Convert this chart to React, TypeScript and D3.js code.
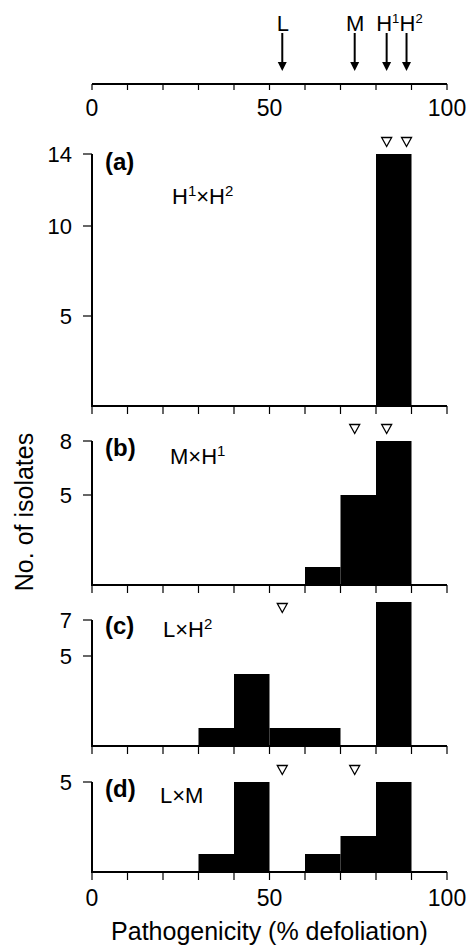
import React from "react";
import * as d3 from "d3";

// ---------- data ----------
const BIN_STARTS = [0, 10, 20, 30, 40, 50, 60, 70, 80, 90];
const BIN_WIDTH = 10;
const PANEL_TAGS = ["(a)", "(b)", "(c)", "(d)"];
const CROSSES = ["H^1×H^2", "M×H^1", "L×H^2", "L×M"];
const COUNTS_A = [0, 0, 0, 0, 0, 0, 0, 0, 14, 0];
const COUNTS_B = [0, 0, 0, 0, 0, 0, 1, 5, 8, 0];
const COUNTS_C = [0, 0, 0, 1, 4, 1, 1, 0, 8, 0];
const COUNTS_D = [0, 0, 0, 1, 5, 0, 1, 2, 5, 0];
const Y_TICKS_A = [5, 10, 14];
const Y_TICKS_B = [5, 8];
const Y_TICKS_C = [5, 7];
const Y_TICKS_D = [5];
const PARENT_NAMES = ["L", "M", "H1", "H2"];
const PARENT_LABELS = ["L", "M", "H^1", "H^2"];
const PARENT_VALUES = [53.6, 74.0, 83.0, 88.6];
const PANEL_PARENTS = [["H1", "H2"], ["M", "H1"], ["L"], ["L", "M"]];
const X_TICKS = [0, 10, 20, 30, 40, 50, 60, 70, 80, 90, 100];
const X_LABELS = [0, 50, 100];
const X_TITLE = "Pathogenicity (% defoliation)";
const Y_TITLE = "No. of isolates";

// ---------- layout ----------
const W = 473;
const H = 946;
const FONT = "'Liberation Sans', Arial, Helvetica, sans-serif";
const UNIT = 18;
const panels = [
  { counts: COUNTS_A, ticks: Y_TICKS_A, base: 406, tagY: 170, crossX: 172, crossY: 204 },
  { counts: COUNTS_B, ticks: Y_TICKS_B, base: 585, tagY: 456, crossX: 170, crossY: 464 },
  { counts: COUNTS_C, ticks: Y_TICKS_C, base: 746, tagY: 634, crossX: 163, crossY: 637 },
  { counts: COUNTS_D, ticks: Y_TICKS_D, base: 872, tagY: 797, crossX: 160, crossY: 803 },
];
// horizontal placement of the parent labels relative to their arrows
const LABEL_PLACE: Record<string, { anchor: string; dx: number }> = {
  L: { anchor: "middle", dx: 0.5 },
  M: { anchor: "middle", dx: 0.5 },
  H1: { anchor: "start", dx: -10.5 },
  H2: { anchor: "start", dx: -7.0 },
};

const x = d3.scaleLinear().domain([0, 100]).range([92, 447]);

function Rich({ text, x0, y0, size, sup, anchor }: any) {
  const parts = text.split(/(\^\d)/).filter((p: string) => p.length);
  let shifted = false;
  return (
    <text x={x0} y={y0} fontSize={size} fontFamily={FONT} textAnchor={anchor || "start"} fill="#000">
      {parts.map((p: string, i: number) => {
        if (p.startsWith("^")) {
          shifted = true;
          return (
            <tspan key={i} dy={-size * 0.36} fontSize={sup}>
              {p.slice(1)}
            </tspan>
          );
        }
        const dy = shifted ? size * 0.36 : 0;
        shifted = false;
        return (
          <tspan key={i} dy={dy}>
            {p}
          </tspan>
        );
      })}
    </text>
  );
}

function tri(cx: number, cy: number) {
  const w = 10, h = 9;
  return `M${cx - w / 2},${cy - h / 2}L${cx + w / 2},${cy - h / 2}L${cx},${cy + h / 2}Z`;
}

export default function App() {
  const parentX = (name: string) => x(PARENT_VALUES[PARENT_NAMES.indexOf(name)]);
  return (
    <svg
      width={W}
      height={H}
      viewBox={`0 0 ${W} ${H}`}
      style={{ position: "absolute", left: 0, top: 0, background: "#fff" }}
    >
      {/* top reference axis */}
      <g>
        <line x1={x(0)} x2={x(100)} y1={84} y2={84} stroke="#000" strokeWidth={2} />
        {X_TICKS.map((t) => (
          <line key={t} x1={x(t)} x2={x(t)} y1={84} y2={90} stroke="#000" strokeWidth={1.2} />
        ))}
        {X_LABELS.map((t) => (
          <text key={t} x={x(t)} y={116} fontSize={23} fontFamily={FONT} textAnchor="middle">
            {t}
          </text>
        ))}
        {PARENT_NAMES.map((n, i) => {
          const px = x(PARENT_VALUES[i]);
          const place = LABEL_PLACE[n];
          return (
            <g key={n}>
              <line x1={px} x2={px} y1={33} y2={63} stroke="#000" strokeWidth={2} />
              <path d={`M${px - 4.5},62L${px + 4.5},62L${px},71Z`} fill="#000" />
              <Rich
                text={PARENT_LABELS[i]}
                x0={px + place.dx}
                y0={31}
                size={22}
                sup={13}
                anchor={place.anchor}
              />
            </g>
          );
        })}
      </g>

      {panels.map((p, pi) => {
        const ymax = d3.max(p.ticks) as number;
        const y = d3.scaleLinear().domain([0, ymax]).range([p.base, p.base - UNIT * ymax]);
        return (
          <g key={pi}>
            {p.counts.map((c, i) =>
              c > 0 ? (
                <rect
                  key={i}
                  x={x(BIN_STARTS[i])}
                  width={x(BIN_STARTS[i] + BIN_WIDTH) - x(BIN_STARTS[i])}
                  y={y(c)}
                  height={y(0) - y(c)}
                  fill="#000"
                />
              ) : null
            )}
            {/* x axis */}
            <line x1={x(0)} x2={x(100)} y1={p.base} y2={p.base} stroke="#000" strokeWidth={2} />
            {X_TICKS.map((t) => (
              <line key={t} x1={x(t)} x2={x(t)} y1={p.base} y2={p.base + 8} stroke="#000" strokeWidth={1.2} />
            ))}
            {/* y axis */}
            <line x1={x(0)} x2={x(0)} y1={y(ymax)} y2={p.base + 1} stroke="#000" strokeWidth={2} />
            {p.ticks.map((t) => (
              <g key={t}>
                <line x1={x(0) - 9} x2={x(0)} y1={y(t)} y2={y(t)} stroke="#000" strokeWidth={1.2} />
                <text
                  x={72}
                  y={y(t)}
                  dy="0.36em"
                  fontSize={22}
                  fontFamily={FONT}
                  textAnchor="end"
                >
                  {t}
                </text>
              </g>
            ))}
            {/* parent markers */}
            {PANEL_PARENTS[pi].map((n) => (
              <path
                key={n}
                d={tri(parentX(n), y(ymax) - 12)}
                fill="#fff"
                stroke="#000"
                strokeWidth={1.3}
              />
            ))}
            {/* labels */}
            <text x={105} y={p.tagY} fontSize={24} fontWeight="bold" fontFamily={FONT}>
              {PANEL_TAGS[pi]}
            </text>
            <Rich text={CROSSES[pi]} x0={p.crossX} y0={p.crossY} size={22} sup={15} />
          </g>
        );
      })}

      {/* bottom tick labels */}
      {X_LABELS.map((t) => (
        <text key={t} x={x(t)} y={906} fontSize={23} fontFamily={FONT} textAnchor="middle">
          {t}
        </text>
      ))}
      <text x={x(50)} y={940} fontSize={25} fontFamily={FONT} textAnchor="middle">
        {X_TITLE}
      </text>
      <text
        transform={`translate(33,512) rotate(-90)`}
        fontSize={25}
        fontFamily={FONT}
        textAnchor="middle"
      >
        {Y_TITLE}
      </text>
    </svg>
  );
}
